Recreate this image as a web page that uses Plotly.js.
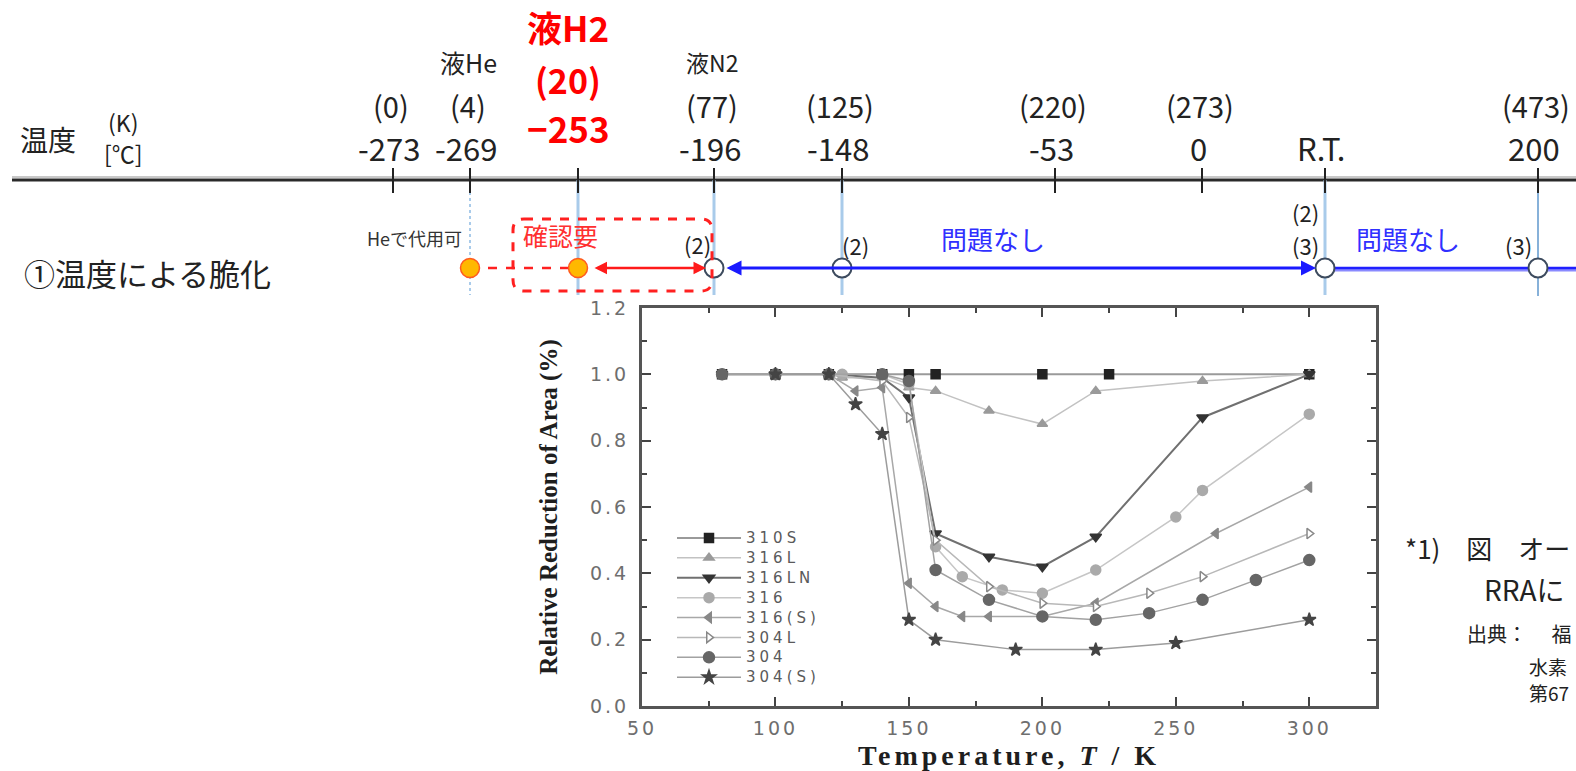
<!DOCTYPE html>
<html><head><meta charset="utf-8">
<script src="https://cdn.plot.ly/plotly-3.0.1.min.js"></script>
<style>
html,body{margin:0;padding:0;background:#fff;}
#chart{width:1576px;height:771px;}
#chart .xtick text{letter-spacing:3px;}
#chart .ytick text{letter-spacing:3px;}
.legendtext{font-size:15px !important;letter-spacing:4px;}
.xtitle{letter-spacing:4px;}
</style>
</head><body><div id="chart"></div>
<script>
// ---------- inset chart data: Relative Reduction of Area vs temperature ----------
const seriesNames = ['310S','316L','316LN','316','316(S)','304L','304','304(S)'];
const T_310S  = [80,100,120,140,150,160,200,225,300];
const R_310S  = [1.00,1.00,1.00,1.00,1.00,1.00,1.00,1.00,1.00];
const T_316L  = [80,120,125,140,150,160,180,200,220,260,300];
const R_316L  = [1.00,1.00,0.99,0.99,0.96,0.95,0.89,0.85,0.95,0.98,1.00];
const T_316LN = [80,100,120,140,150,160,180,200,220,260,300];
const R_316LN = [1.00,1.00,1.00,0.99,0.93,0.52,0.45,0.42,0.51,0.87,1.00];
const T_316   = [80,125,140,150,160,170,185,200,220,250,260,300];
const R_316   = [1.00,1.00,1.00,0.97,0.48,0.39,0.35,0.34,0.41,0.57,0.65,0.88];
const T_316S  = [120,130,140,150,160,170,180,200,220,265,300];
const R_316S  = [1.00,0.95,0.96,0.37,0.30,0.27,0.27,0.27,0.31,0.52,0.66];
const T_304L  = [120,140,150,160,180,200,220,240,260,300];
const R_304L  = [1.00,0.98,0.87,0.50,0.36,0.31,0.30,0.34,0.39,0.52];
const T_304   = [80,100,120,140,150,160,180,200,220,240,260,280,300];
const R_304   = [1.00,1.00,1.00,1.00,0.98,0.41,0.32,0.27,0.26,0.28,0.32,0.38,0.44];
const T_304S  = [100,120,130,140,150,160,190,220,250,300];
const R_304S  = [1.00,1.00,0.91,0.82,0.26,0.20,0.17,0.17,0.19,0.26];
const xTickVals = [50,100,150,200,250,300];
const yTickVals = [0,0.2,0.4,0.6,0.8,1.0,1.2];

// ---------- temperature scale (schematic) ----------
const scaleKelvin  = ['(0)','(4)','(20)','(77)','(125)','(220)','(273)','','(473)'];
const scaleCelsius = ['-273','-269','−253','-196','-148','-53','0','R.T.','200'];
const scaleAbove   = ['','液He','液H2','液N2','','','','',''];
const rowTitle = '①温度による脆化';
const rangeNotes = ['Heで代用可','確認要','問題なし','問題なし'];
const sideNotes = ['*1)　図　オー','RRAに','出典：　 福','水素','第67'];

// layout positions of the schematic scale (px along the page)
const scalePos = [393,470,578,714,842,1055,1202,1325,1538];

// ---------- styles ----------
const lineCol = ['#9a9a9a','#c2c2c2','#707070','#c6c6c6','#a8a8a8','#b8b8b8','#a2a2a2','#9c9c9c'];
const lineW   = [2,1.5,2,1.5,1.5,1.5,1.5,1.5];
const mSym    = ['square','triangle-up','triangle-down','circle','triangle-left','triangle-right','circle','star'];
const mCol    = ['#222','#9a9a9a','#333','#aaa','#888','#fff','#666','#444'];
const mLine   = ['#222','#9a9a9a','#333','#aaa','#888','#888','#666','#444'];
const mSize   = [9,9,10,10,9,9,11,10];

const Ts = [T_310S,T_316L,T_316LN,T_316,T_316S,T_304L,T_304,T_304S];
const Rs = [R_310S,R_316L,R_316LN,R_316,R_316S,R_304L,R_304,R_304S];

const traces = seriesNames.map((n,i)=>({
  type:'scatter', mode:'lines+markers', name:n, x:Ts[i], y:Rs[i],
  xaxis:'x', yaxis:'y',
  line:{color:lineCol[i], width:lineW[i]},
  marker:{symbol:mSym[i], color:mCol[i], size:mSize[i], line:{color:mLine[i], width:1.5}}
}));

// overlay axes (x2/y2) in page pixels for the schematic
const P = i => scalePos[i];
const Y_AXIS = 180, Y_ROW = 268;
const ov = {xaxis:'x2', yaxis:'y2', showlegend:false, hoverinfo:'skip'};

traces.push(Object.assign({type:'scatter',mode:'lines',x:[12,1576],y:[Y_AXIS-3,Y_AXIS-3],line:{color:'#c8c8c8',width:2}},ov));
traces.push(Object.assign({type:'scatter',mode:'lines',x:[12,1576],y:[Y_AXIS,Y_AXIS],line:{color:'#2a2a2a',width:3}},ov));

// light blue guide lines
const guideIdx = [2,3,4,7];
let gx=[],gy=[];
guideIdx.forEach(i=>{gx.push(P(i),P(i),null);gy.push(Y_AXIS,295,null);});
traces.push(Object.assign({type:'scatter',mode:'lines',x:gx,y:gy,line:{color:'#a9cbea',width:3}},ov));
traces.push(Object.assign({type:'scatter',mode:'lines',x:[P(1),P(1)],y:[Y_AXIS,295],line:{color:'#a9cbea',width:2,dash:'dot'}},ov));
traces.push(Object.assign({type:'scatter',mode:'lines',x:[P(8),P(8)],y:[Y_AXIS,296],line:{color:'#5f97cc',width:1.5}},ov));

// tick marks
let tx=[],ty=[];
scalePos.forEach(p=>{tx.push(p,p,null);ty.push(Y_AXIS-12,Y_AXIS+13,null);});
traces.push(Object.assign({type:'scatter',mode:'lines',x:tx,y:ty,line:{color:'#222',width:2}},ov));

// red dashed segment between He and H2 points
traces.push(Object.assign({type:'scatter',mode:'lines',x:[P(1),P(2)],y:[Y_ROW,Y_ROW],line:{color:'#ff2020',width:2.5,dash:'dash'}},ov));
// blue line from R.T. to the right edge
traces.push(Object.assign({type:'scatter',mode:'lines',x:[P(7),1576],y:[Y_ROW+2,Y_ROW+2],line:{color:'#8a8aff',width:3}},ov));
traces.push(Object.assign({type:'scatter',mode:'lines',x:[P(7),1576],y:[Y_ROW,Y_ROW],line:{color:'#1f1fff',width:2.5}},ov));

// orange points (He, H2)
traces.push(Object.assign({type:'scatter',mode:'markers',x:[P(1),P(2)],y:[Y_ROW,Y_ROW],
  marker:{symbol:'circle',size:19,color:'#ffb800',line:{color:'#ff5a1f',width:1.5}}},ov));
// open points (77K, 125K, R.T., 473K)
traces.push(Object.assign({type:'scatter',mode:'markers',x:[P(3),P(4),P(7),P(8)],y:[Y_ROW,Y_ROW,Y_ROW,Y_ROW],
  marker:{symbol:'circle',size:19,color:'#ffffff',line:{color:'#3d4b5e',width:2}}},ov));

// ---------- annotations ----------
const jp = 'Noto Sans CJK JP, Noto Sans, sans-serif';
const ann = [];
const A = (o)=>ann.push(Object.assign({xref:'x2',yref:'y2',showarrow:false},o));

A({x:48,y:139,text:'温度',font:{family:jp,size:28,color:'#222'}});
A({x:123,y:122,text:'(K)',font:{family:jp,size:23,color:'#222'}});
A({x:123,y:153,text:'[℃]',font:{family:jp,size:23,color:'#222'}});

scalePos.forEach((p,i)=>{
  if(i===2){
    A({x:p-10,y:26,text:'<b>'+scaleAbove[i]+'</b>',font:{family:jp,size:35,color:'#ff0000'}});
    A({x:p-10,y:79,text:'<b>'+scaleKelvin[i]+'</b>',font:{family:jp,size:34,color:'#ff0000'}});
    A({x:p-10,y:127,text:'<b>'+scaleCelsius[i]+'</b>',font:{family:jp,size:35,color:'#ff0000'}});
  } else {
    if(scaleAbove[i]) A({x:p-2,y:62,text:scaleAbove[i],font:{family:jp,size:i===1?25:23,color:'#222'}});
    if(scaleKelvin[i]) A({x:p-2,y:105,text:scaleKelvin[i],font:{family:jp,size:29,color:'#222'}});
    A({x:p-4,y:147,text:scaleCelsius[i],font:{family:jp,size:31,color:'#222'}});
  }
});

A({x:22,y:272,xanchor:'left',text:rowTitle,font:{family:jp,size:31,color:'#222'}});
A({x:414,y:238,text:rangeNotes[0],font:{family:jp,size:18,color:'#333'}});
A({x:560,y:235,text:rangeNotes[1],font:{family:jp,size:25,color:'#ff3030'}});
A({x:993,y:238,text:rangeNotes[2],font:{family:jp,size:26,color:'#3030ff'}});
A({x:1408,y:238,text:rangeNotes[3],font:{family:jp,size:26,color:'#3030ff'}});
A({x:P(3)-17,y:244,text:'(2)',font:{family:jp,size:22,color:'#222'}});
A({x:P(4)+13,y:245,text:'(2)',font:{family:jp,size:22,color:'#222'}});
A({x:P(7)-20,y:212,text:'(2)',font:{family:jp,size:22,color:'#222'}});
A({x:P(7)-20,y:245,text:'(3)',font:{family:jp,size:22,color:'#222'}});
A({x:P(8)-20,y:245,text:'(3)',font:{family:jp,size:22,color:'#222'}});

// double arrows
A({x:P(3)-8,y:Y_ROW,ax:P(2)+15,ay:Y_ROW,axref:'x2',ayref:'y2',showarrow:true,text:'',
   arrowside:'end+start',arrowhead:2,startarrowhead:2,arrowsize:1,startarrowsize:1,arrowwidth:2.5,arrowcolor:'#ff1a1a'});
A({x:P(7)-9,y:Y_ROW,ax:P(3)+11,ay:Y_ROW,axref:'x2',ayref:'y2',showarrow:true,text:'',
   arrowside:'end+start',arrowhead:2,startarrowhead:2,arrowsize:1,startarrowsize:1,arrowwidth:3,arrowcolor:'#1a1aff'});

// side notes (reaching the page edge as in the reference)
A({x:1403,y:547,xanchor:'left',text:sideNotes[0],font:{family:jp,size:26,color:'#222'}});
A({x:1482,y:589,xanchor:'left',text:sideNotes[1],font:{family:jp,size:28,color:'#222'}});
A({x:1465,y:633,xanchor:'left',text:sideNotes[2],font:{family:jp,size:20,color:'#222'}});
A({x:1527,y:666,xanchor:'left',text:sideNotes[3],font:{family:jp,size:19,color:'#222'}});
A({x:1527,y:692,xanchor:'left',text:sideNotes[4],font:{family:jp,size:19,color:'#222'}});

const axFont = {family:'DejaVu Sans, sans-serif',size:19,color:'#6e6e6e'};
const layout = {
  width:1576,height:771,margin:{l:0,r:0,t:0,b:0},
  paper_bgcolor:'#ffffff',plot_bgcolor:'rgba(0,0,0,0)',
  showlegend:true,
  legend:{x:672/1576,y:1-523/771,xanchor:'left',yanchor:'top',bgcolor:'rgba(0,0,0,0)',
    font:{family:'DejaVu Sans, sans-serif',size:13,color:'#5a5a5a'},tracegroupgap:0,itemwidth:64},
  xaxis:{domain:[642/1576,1376/1576],anchor:'y',range:[50,325],tickvals:xTickVals,
    ticks:'inside',ticklen:9,tickwidth:2,tickcolor:'#444',showline:true,linecolor:'#555',linewidth:3,
    mirror:'ticks',showgrid:false,zeroline:false,tickfont:axFont,ticklabelstandoff:3,
    minor:{tick0:50,dtick:25,ticks:'inside',ticklen:5,tickwidth:2,tickcolor:'#444'},
    title:{text:'<b>Temperature, <i>T</i> / K</b>',font:{family:'Liberation Serif, serif',size:28,color:'#1e1e1e'},standoff:10}},
  yaxis:{domain:[65/771,1-308/771],anchor:'x',range:[0,1.2],tickvals:yTickVals,tickformat:'.1f',
    ticks:'inside',ticklen:9,tickwidth:2,tickcolor:'#444',showline:true,linecolor:'#555',linewidth:3,
    mirror:'ticks',showgrid:false,zeroline:false,tickfont:axFont,ticklabelstandoff:6,
    minor:{dtick:0.1,ticks:'inside',ticklen:5,tickwidth:2,tickcolor:'#444'},
    title:{text:'<b>Relative Reduction of Area (%)</b>',font:{family:'Liberation Serif, serif',size:25,color:'#1e1e1e'},standoff:35}},
  xaxis2:{domain:[0,1],anchor:'y2',range:[0,1576],visible:false,fixedrange:true},
  yaxis2:{domain:[0,1],anchor:'x2',range:[771,0],visible:false,fixedrange:true},
  annotations:ann,
  shapes:[{type:'path',xref:'x2',yref:'y2',
    path:'M 524 219 L 701 219 Q 712 219 712 230 L 712 280 Q 712 291 701 291 L 524 291 Q 513 291 513 280 L 513 230 Q 513 219 524 219 Z',
    line:{color:'#ff2020',width:3,dash:'dash'}}]
};
Plotly.newPlot('chart',traces,layout,{displayModeBar:false,staticPlot:true});
</script></body></html>
